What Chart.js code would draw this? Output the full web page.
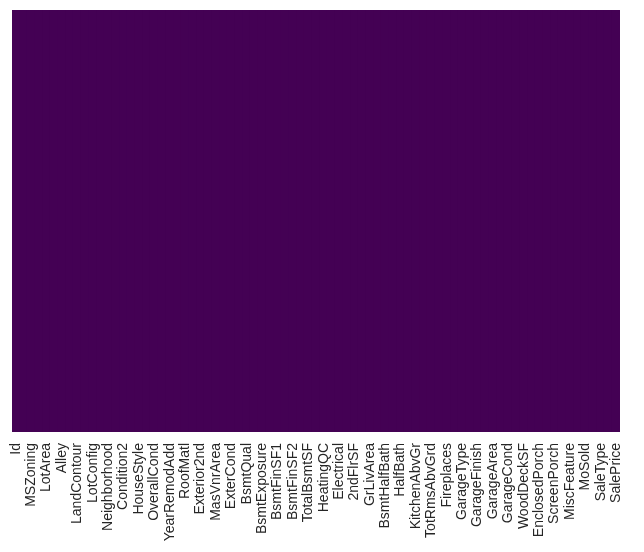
<!DOCTYPE html>
<html>
<head>
<meta charset="utf-8">
<script src="https://cdn.jsdelivr.net/npm/chart.js@4"></script>
<style>
  html, body { margin: 0; padding: 0; background: #ffffff; }
  #wrap { width: 644px; height: 552px; }
</style>
</head>
<body>
<div id="wrap"><canvas id="c" width="644" height="552"></canvas></div>
<script>
// The 79 columns of the data frame (heatmap of df.isnull())
const columns = ["Id","MSSubClass","MSZoning","LotFrontage","LotArea","Street","Alley","LotShape","LandContour","Utilities","LotConfig","LandSlope","Neighborhood","Condition1","Condition2","BldgType","HouseStyle","OverallQual","OverallCond","YearBuilt","YearRemodAdd","RoofStyle","RoofMatl","Exterior1st","Exterior2nd","MasVnrType","MasVnrArea","ExterQual","ExterCond","Foundation","BsmtQual","BsmtCond","BsmtExposure","BsmtFinType1","BsmtFinSF1","BsmtFinType2","BsmtFinSF2","BsmtUnfSF","TotalBsmtSF","Heating","HeatingQC","CentralAir","Electrical","1stFlrSF","2ndFlrSF","LowQualFinSF","GrLivArea","BsmtFullBath","BsmtHalfBath","FullBath","HalfBath","BedroomAbvGr","KitchenAbvGr","KitchenQual","TotRmsAbvGrd","Functional","Fireplaces","FireplaceQu","GarageType","GarageYrBlt","GarageFinish","GarageCars","GarageArea","GarageQual","GarageCond","PavedDrive","WoodDeckSF","OpenPorchSF","EnclosedPorch","3SsnPorch","ScreenPorch","PoolArea","MiscFeature","MiscVal","MoSold","YrSold","SaleType","SaleCondition","SalePrice"];
// Missing-value count per column (every cell shows "False" -> value 0)
const missingCounts = columns.map(() => 0);
const rowCount = 1460;
// Only every other column gets a tick label
const tickLabels = columns.map((c, i) => (i % 2 === 0 ? c : ""));

// viridis endpoints (value 0 -> dark purple)
function viridis(t) {
  return t <= 0 ? "#440154" : "#fde725";
}

const barData = missingCounts.map(() => [0, rowCount]);
const barColors = missingCounts.map(v => viridis(v));

new Chart(document.getElementById("c"), {
  type: "bar",
  data: {
    labels: columns,
    datasets: [{
      data: barData,
      backgroundColor: barColors,
      borderWidth: 0,
      barPercentage: 1.0,
      categoryPercentage: 1.0,
      inflateAmount: 0.6
    }]
  },
  options: {
    responsive: false,
    animation: false,
    devicePixelRatio: 1,
    layout: { padding: { left: 12, right: 12, top: 10, bottom: 0 } },
    plugins: { legend: { display: false }, tooltip: { enabled: false } },
    scales: {
      x: {
        grid: { display: false, drawTicks: false },
        border: { display: false },
        ticks: {
          autoSkip: false,
          maxRotation: 90,
          minRotation: 90,
          padding: 11,
          color: "#262626",
          font: { family: "'Liberation Sans', Arial, sans-serif", size: 14 },
          callback: function (value, index) { return tickLabels[index]; }
        },
        afterFit: function (scale) { scale.height = 120; }
      },
      y: {
        display: false,
        min: 0,
        max: rowCount,
        reverse: true
      }
    }
  }
});
</script>
</body>
</html>
